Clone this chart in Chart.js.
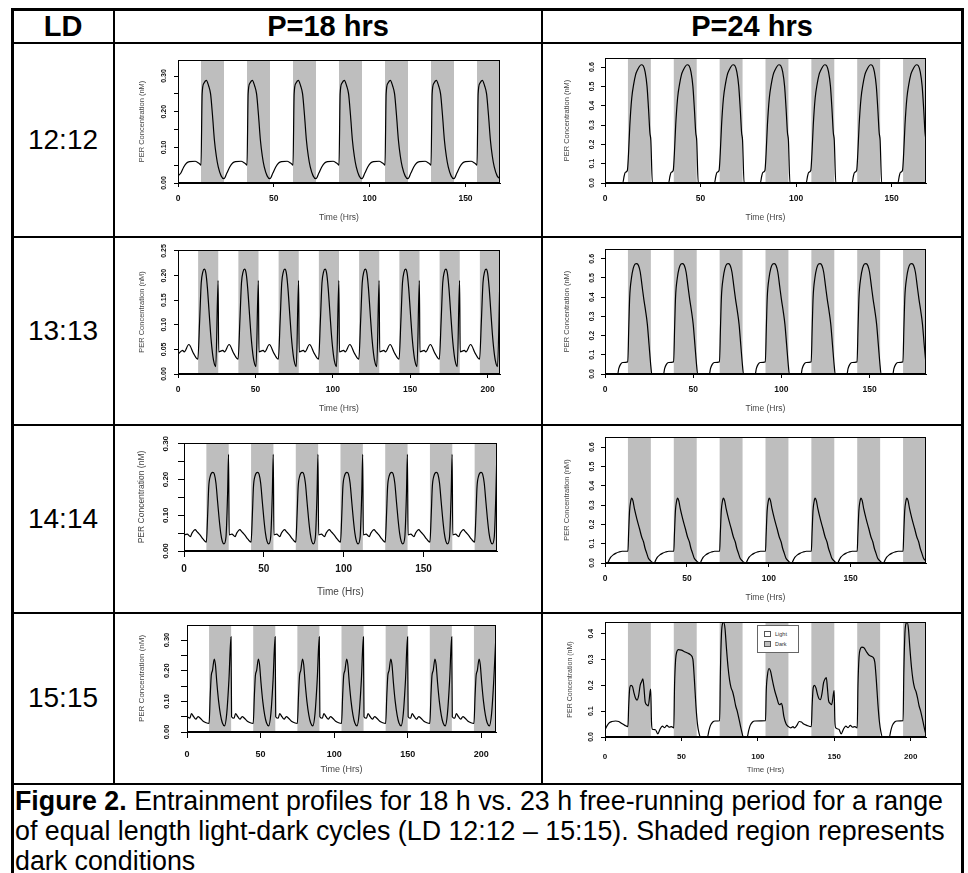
<!DOCTYPE html>
<html>
<head>
<meta charset="utf-8">
<script src="https://cdn.jsdelivr.net/npm/chart.js@4.4.1/dist/chart.umd.min.js"></script>
<style>
  body { margin: 0; background: #fff; font-family: "Liberation Sans", Arial, sans-serif; }
  #page { position: relative; width: 968px; height: 873px; overflow: hidden; background: #fff; }
  .ln { position: absolute; background: #000; }
  .lbl { position: absolute; transform: translate(-50%, -50%); white-space: nowrap; color: #000; }
  .hd { font-size: 29px; font-weight: bold; }
  .ld { font-size: 28px; }
  canvas { position: absolute; }
  #caption { position: absolute; left: 15px; top: 786px; font-size: 26.8px; line-height: 30px; white-space: nowrap; }
  #legend { position: absolute; left: 757px; top: 625px; width: 40px; height: 26px; border: 1px solid #666; background: #fff; font-size: 5.5px; color: #333; }
  #legend div { position: absolute; left: 6px; display: flex; align-items: center; }
  #legend span.sw { display: inline-block; width: 5px; height: 4px; border: 1px solid #555; margin-right: 4px; }
</style>
</head>
<body>
<div id="page">
  <!-- table grid -->
  <div class="ln" style="left:11px;top:8px;width:953px;height:3px"></div>
  <div class="ln" style="left:11px;top:8px;width:3px;height:870px"></div>
  <div class="ln" style="left:961px;top:8px;width:3px;height:870px"></div>
  <div class="ln" style="left:113px;top:8px;width:2px;height:777px"></div>
  <div class="ln" style="left:541px;top:8px;width:2px;height:777px"></div>
  <div class="ln" style="left:11px;top:42px;width:953px;height:2px"></div>
  <div class="ln" style="left:11px;top:236px;width:953px;height:2px"></div>
  <div class="ln" style="left:11px;top:424px;width:953px;height:2px"></div>
  <div class="ln" style="left:11px;top:612px;width:953px;height:2px"></div>
  <div class="ln" style="left:11px;top:783px;width:953px;height:2px"></div>

  <div class="lbl hd" style="left:63px;top:26px">LD</div>
  <div class="lbl hd" style="left:328px;top:26px">P=18 hrs</div>
  <div class="lbl hd" style="left:752px;top:26px">P=24 hrs</div>

  <div class="lbl ld" style="left:63px;top:140px">12:12</div>
  <div class="lbl ld" style="left:63px;top:331px">13:13</div>
  <div class="lbl ld" style="left:63px;top:519px">14:14</div>
  <div class="lbl ld" style="left:63px;top:698px">15:15</div>

  <div id="caption"><b>Figure 2.</b> Entrainment profiles for 18 h vs. 23 h free-running period for a range<br>of equal length light-dark cycles (LD 12:12 – 15:15). Shaded region represents<br>dark conditions</div>
</div>

<script>
// ---- dark phases (hours) ----
const dark12 = [[12,24],[36,48],[60,72],[84,96],[108,120],[132,144],[156,168]];
const dark13a = [[13,26],[39,52],[65,78],[91,104],[117,130],[143,156],[169,182],[195,208]];
const dark13b = [[13,26],[39,52],[65,78],[91,104],[117,130],[143,156],[169,182]];
const dark14 = [[14,28],[42,56],[70,84],[98,112],[126,140],[154,168],[182,196]];
const dark15 = [[15,30],[45,60],[75,90],[105,120],[135,150],[165,180],[195,210]];

// ---- ticks ----
const xTicks150 = [0, 50, 100, 150];
const xLabels150 = ['0', '50', '100', '150'];
const xTicks200 = [0, 50, 100, 150, 200];
const xLabels200 = ['0', '50', '100', '150', '200'];
const yTicks030 = [0, 0.05, 0.1, 0.15, 0.2, 0.25, 0.3];
const yLabels030 = ['0.00', '', '0.10', '', '0.20', '', '0.30'];
const yTicks025 = [0, 0.05, 0.1, 0.15, 0.2, 0.25];
const yLabels025 = ['0.00', '0.05', '0.10', '0.15', '0.20', '0.25'];
const yTicks06 = [0, 0.1, 0.2, 0.3, 0.4, 0.5, 0.6];
const yLabels06 = ['0.0', '0.1', '0.2', '0.3', '0.4', '0.5', '0.6'];
const yTicks04 = [0, 0.1, 0.2, 0.3, 0.4];
const yLabels04 = ['0.0', '0.1', '0.2', '0.3', '0.4'];

// ---- LD 12:12, P=18 ----
const timeA = [
  0,1.5,3,4.5,6,9,11,12,12.6,13.5,14.8,16,17,18,19,20,21,22.5,
  24,25.5,27,28.5,30,33,35,36,36.6,37.5,38.8,40,41,42,43,44,45,46.5,
  48,49.5,51,52.5,54,57,59,60,60.6,61.5,62.8,64,65,66,67,68,69,70.5,
  72,73.5,75,76.5,78,81,83,84,84.6,85.5,86.8,88,89,90,91,92,93,94.5,
  96,97.5,99,100.5,102,105,107,108,108.6,109.5,110.8,112,113,114,115,116,117,118.5,
  120,121.5,123,124.5,126,129,131,132,132.6,133.5,134.8,136,137,138,139,140,141,142.5,
  144,145.5,147,148.5,150,153,155,156,156.6,157.5,158.8,160,161,162,163,164,165,166.5,
  168];
const perA = [
  .02,.028,.045,.056,.06,.061,.055,.05,.25,.28,.288,.272,.25,.19,.12,.075,.045,.02,
  .012,.028,.045,.056,.06,.061,.055,.05,.25,.28,.288,.272,.25,.19,.12,.075,.045,.02,
  .012,.028,.045,.056,.06,.061,.055,.05,.25,.28,.288,.272,.25,.19,.12,.075,.045,.02,
  .012,.028,.045,.056,.06,.061,.055,.05,.25,.28,.288,.272,.25,.19,.12,.075,.045,.02,
  .012,.028,.045,.056,.06,.061,.055,.05,.25,.28,.288,.272,.25,.19,.12,.075,.045,.02,
  .012,.028,.045,.056,.06,.061,.055,.05,.25,.28,.288,.272,.25,.19,.12,.075,.045,.02,
  .012,.028,.045,.056,.06,.061,.055,.05,.25,.28,.288,.272,.25,.19,.12,.075,.045,.02,
  .012];

// ---- LD 12:12, P=24 ----
const timeB = [
  0,9.3,10,10.6,11.7,12.3,13,14,15,16,17,18,19,20,21,22,22.8,23.5,
  24,24.8,33.3,34,34.6,35.7,36.3,37,38,39,40,41,42,43,44,45,46,46.8,47.5,
  48,48.8,57.3,58,58.6,59.7,60.3,61,62,63,64,65,66,67,68,69,70,70.8,71.5,
  72,72.8,81.3,82,82.6,83.7,84.3,85,86,87,88,89,90,91,92,93,94,94.8,95.5,
  96,96.8,105.3,106,106.6,107.7,108.3,109,110,111,112,113,114,115,116,117,118,118.8,119.5,
  120,120.8,129.3,130,130.6,131.7,132.3,133,134,135,136,137,138,139,140,141,142,142.8,143.5,
  144,144.8,153.3,154,154.6,155.7,156.3,157,158,159,160,161,162,163,164,165,166,166.8,167.5,
  168];
const perB = [
  0,0,.035,.055,.065,.15,.3,.44,.51,.56,.585,.603,.612,.607,.575,.5,.38,.26,
  .22,0,0,.035,.055,.065,.15,.3,.44,.51,.56,.585,.603,.612,.607,.575,.5,.38,.26,
  .22,0,0,.035,.055,.065,.15,.3,.44,.51,.56,.585,.603,.612,.607,.575,.5,.38,.26,
  .22,0,0,.035,.055,.065,.15,.3,.44,.51,.56,.585,.603,.612,.607,.575,.5,.38,.26,
  .22,0,0,.035,.055,.065,.15,.3,.44,.51,.56,.585,.603,.612,.607,.575,.5,.38,.26,
  .22,0,0,.035,.055,.065,.15,.3,.44,.51,.56,.585,.603,.612,.607,.575,.5,.38,.26,
  .22,0,0,.035,.055,.065,.15,.3,.44,.51,.56,.585,.603,.612,.607,.575,.5,.38,.26,
  .22];

// ---- LD 13:13, P=18 ----
const timeC = [
  0,3,4,7,10,12.8,14,15,16,17,18,19,20,21,22,23,24.4,25.9,
  26.3,29,30,33,36,38.8,40,41,42,43,44,45,46,47,48,49,50.4,51.9,
  52.3,55,56,59,62,64.8,66,67,68,69,70,71,72,73,74,75,76.4,77.9,
  78.3,81,82,85,88,90.8,92,93,94,95,96,97,98,99,100,101,102.4,103.9,
  104.3,107,108,111,114,116.8,118,119,120,121,122,123,124,125,126,127,128.4,129.9,
  130.3,133,134,137,140,142.8,144,145,146,147,148,149,150,151,152,153,154.4,155.9,
  156.3,159,160,163,166,168.8,170,171,172,173,174,175,176,177,178,179,180.4,181.9,
  182.3,185,186,189,192,194.8,196,197,198,199,200,201,202,203,204,205,206.4,207.9];
const perC = [
  .04,.048,.045,.06,.042,.03,.11,.185,.207,.213,.205,.175,.13,.085,.05,.027,.015,.19,
  .045,.048,.045,.06,.042,.03,.11,.185,.207,.213,.205,.175,.13,.085,.05,.027,.015,.19,
  .045,.048,.045,.06,.042,.03,.11,.185,.207,.213,.205,.175,.13,.085,.05,.027,.015,.19,
  .045,.048,.045,.06,.042,.03,.11,.185,.207,.213,.205,.175,.13,.085,.05,.027,.015,.19,
  .045,.048,.045,.06,.042,.03,.11,.185,.207,.213,.205,.175,.13,.085,.05,.027,.015,.19,
  .045,.048,.045,.06,.042,.03,.11,.185,.207,.213,.205,.175,.13,.085,.05,.027,.015,.19,
  .045,.048,.045,.06,.042,.03,.11,.185,.207,.213,.205,.175,.13,.085,.05,.027,.015,.19,
  .045,.048,.045,.06,.042,.03,.11,.185,.207,.213,.205,.175,.13,.085,.05,.027,.015,.19];

// ---- LD 13:13, P=24 ----
const timeD = [
  0,7.2,7.8,8.8,10,12.9,13.5,14,15,16,17,18,19,20,21,22,23,24,25,
  26,26.5,33.2,33.8,34.8,36,38.9,39.5,40,41,42,43,44,45,46,47,48,49,50,51,
  52,52.5,59.2,59.8,60.8,62,64.9,65.5,66,67,68,69,70,71,72,73,74,75,76,77,
  78,78.5,85.2,85.8,86.8,88,90.9,91.5,92,93,94,95,96,97,98,99,100,101,102,103,
  104,104.5,111.2,111.8,112.8,114,116.9,117.5,118,119,120,121,122,123,124,125,126,127,128,129,
  130,130.5,137.2,137.8,138.8,140,142.9,143.5,144,145,146,147,148,149,150,151,152,153,154,155,
  156,156.5,163.2,163.8,164.8,166,168.9,169.5,170,171,172,173,174,175,176,177,178,179,180,181,
  182];
const perD = [
  0,0,.028,.05,.06,.063,.25,.4,.5,.55,.572,.575,.565,.53,.46,.39,.33,.26,.15,
  .04,0,0,.028,.05,.06,.063,.25,.4,.5,.55,.572,.575,.565,.53,.46,.39,.33,.26,.15,
  .04,0,0,.028,.05,.06,.063,.25,.4,.5,.55,.572,.575,.565,.53,.46,.39,.33,.26,.15,
  .04,0,0,.028,.05,.06,.063,.25,.4,.5,.55,.572,.575,.565,.53,.46,.39,.33,.26,.15,
  .04,0,0,.028,.05,.06,.063,.25,.4,.5,.55,.572,.575,.565,.53,.46,.39,.33,.26,.15,
  .04,0,0,.028,.05,.06,.063,.25,.4,.5,.55,.572,.575,.565,.53,.46,.39,.33,.26,.15,
  .04,0,0,.028,.05,.06,.063,.25,.4,.5,.55,.572,.575,.565,.53,.46,.39,.33,.26,.15,
  .05];

// ---- LD 14:14, P=18 ----
const timeE = [
  0,2,4,5,7,8,10,12,14,14.8,15.5,16.5,18,19,20,21,22,23,24,25,26.3,27.3,27.9,
  28.3,30,32,33,35,36,38,40,42,42.8,43.5,44.5,46,47,48,49,50,51,52,53,54.3,55.3,55.9,
  56.3,58,60,61,63,64,66,68,70,70.8,71.5,72.5,74,75,76,77,78,79,80,81,82.3,83.3,83.9,
  84.3,86,88,89,91,92,94,96,98,98.8,99.5,100.5,102,103,104,105,106,107,108,109,110.3,111.3,111.9,
  112.3,114,116,117,119,120,122,124,126,126.8,127.5,128.5,130,131,132,133,134,135,136,137,138.3,139.3,139.9,
  140.3,142,144,145,147,148,150,152,154,154.8,155.5,156.5,158,159,160,161,162,163,164,165,166.3,167.3,167.9,
  168.3,170,172,173,175,176,178,180,182,182.8,183.5,184.5,186,187,188,189,190,191,192,193,194.3,195.3,195.9];
const perE = [
  .045,.047,.04,.05,.06,.055,.045,.033,.025,.1,.18,.21,.22,.215,.19,.14,.09,.05,.027,.02,.04,.16,.27,
  .045,.047,.04,.05,.06,.055,.045,.033,.025,.1,.18,.21,.22,.215,.19,.14,.09,.05,.027,.02,.04,.16,.27,
  .045,.047,.04,.05,.06,.055,.045,.033,.025,.1,.18,.21,.22,.215,.19,.14,.09,.05,.027,.02,.04,.16,.27,
  .045,.047,.04,.05,.06,.055,.045,.033,.025,.1,.18,.21,.22,.215,.19,.14,.09,.05,.027,.02,.04,.16,.27,
  .045,.047,.04,.05,.06,.055,.045,.033,.025,.1,.18,.21,.22,.215,.19,.14,.09,.05,.027,.02,.04,.16,.27,
  .045,.047,.04,.05,.06,.055,.045,.033,.025,.1,.18,.21,.22,.215,.19,.14,.09,.05,.027,.02,.04,.16,.27,
  .045,.047,.04,.05,.06,.055,.045,.033,.025,.1,.18,.21,.22,.215,.19,.14,.09,.05,.027,.02,.04,.16,.27];

// ---- LD 14:14, P=24 ----
const timeF = [
  0,1.5,2.5,3.5,5,6.5,8.5,10.5,14,14.4,15,15.7,16.3,17,18,19.4,21,22.4,23.5,24.5,25.5,26.5,
  28,28.8,30,31,32,33.5,35,37,39,42,42.4,43,43.7,44.3,45,46,47.4,49,50.4,51.5,52.5,53.5,54.5,
  56,56.8,58,59,60,61.5,63,65,67,70,70.4,71,71.7,72.3,73,74,75.4,77,78.4,79.5,80.5,81.5,82.5,
  84,84.8,86,87,88,89.5,91,93,95,98,98.4,99,99.7,100.3,101,102,103.4,105,106.4,107.5,108.5,109.5,110.5,
  112,112.8,114,115,116,117.5,119,121,123,126,126.4,127,127.7,128.3,129,130,131.4,133,134.4,135.5,136.5,137.5,138.5,
  140,140.8,142,143,144,145.5,147,149,151,154,154.4,155,155.7,156.3,157,158,159.4,161,162.4,163.5,164.5,165.5,166.5,
  168,168.8,170,171,172,173.5,175,177,179,182,182.4,183,183.7,184.3,185,186,187.4,189,190.4,191.5,192.5,193.5,194.5,
  196];
const perF = [
  0,0,.015,.03,.042,.05,.057,.061,.062,.15,.27,.32,.336,.325,.28,.23,.18,.135,.11,.075,.05,.025,
  .01,.004,0,.015,.03,.042,.05,.057,.061,.062,.15,.27,.32,.336,.325,.28,.23,.18,.135,.11,.075,.05,.025,
  .01,.004,0,.015,.03,.042,.05,.057,.061,.062,.15,.27,.32,.336,.325,.28,.23,.18,.135,.11,.075,.05,.025,
  .01,.004,0,.015,.03,.042,.05,.057,.061,.062,.15,.27,.32,.336,.325,.28,.23,.18,.135,.11,.075,.05,.025,
  .01,.004,0,.015,.03,.042,.05,.057,.061,.062,.15,.27,.32,.336,.325,.28,.23,.18,.135,.11,.075,.05,.025,
  .01,.004,0,.015,.03,.042,.05,.057,.061,.062,.15,.27,.32,.336,.325,.28,.23,.18,.135,.11,.075,.05,.025,
  .01,.004,0,.015,.03,.042,.05,.057,.061,.062,.15,.27,.32,.336,.325,.28,.23,.18,.135,.11,.075,.05,.025,
  .01];

// ---- LD 15:15, P=18 ----
const timeG = [
  0,2,3,4.5,6,7.5,9,11,13,15,15.8,16.5,17.3,18.5,19.3,20.3,21.5,22.8,24,25.5,27,28.5,29.9,
  30.3,32,33,34.5,36,37.5,39,41,43,45,45.8,46.5,47.3,48.5,49.3,50.3,51.5,52.8,54,55.5,57,58.5,59.9,
  60.3,62,63,64.5,66,67.5,69,71,73,75,75.8,76.5,77.3,78.5,79.3,80.3,81.5,82.8,84,85.5,87,88.5,89.9,
  90.3,92,93,94.5,96,97.5,99,101,103,105,105.8,106.5,107.3,108.5,109.3,110.3,111.5,112.8,114,115.5,117,118.5,119.9,
  120.3,122,123,124.5,126,127.5,129,131,133,135,135.8,136.5,137.3,138.5,139.3,140.3,141.5,142.8,144,145.5,147,148.5,149.9,
  150.3,152,153,154.5,156,157.5,159,161,163,165,165.8,166.5,167.3,168.5,169.3,170.3,171.5,172.8,174,175.5,177,178.5,179.9,
  180.3,182,183,184.5,186,187.5,189,191,193,195,195.8,196.5,197.3,198.5,199.3,200.3,201.5,202.8,204,205.5,207,208.5,209.9];
const perG = [
  .05,.045,.06,.05,.042,.05,.045,.035,.03,.028,.12,.185,.2,.238,.22,.16,.1,.055,.03,.02,.06,.17,.31,
  .05,.045,.06,.05,.042,.05,.045,.035,.03,.028,.12,.185,.2,.238,.22,.16,.1,.055,.03,.02,.06,.17,.31,
  .05,.045,.06,.05,.042,.05,.045,.035,.03,.028,.12,.185,.2,.238,.22,.16,.1,.055,.03,.02,.06,.17,.31,
  .05,.045,.06,.05,.042,.05,.045,.035,.03,.028,.12,.185,.2,.238,.22,.16,.1,.055,.03,.02,.06,.17,.31,
  .05,.045,.06,.05,.042,.05,.045,.035,.03,.028,.12,.185,.2,.238,.22,.16,.1,.055,.03,.02,.06,.17,.31,
  .05,.045,.06,.05,.042,.05,.045,.035,.03,.028,.12,.185,.2,.238,.22,.16,.1,.055,.03,.02,.06,.17,.31,
  .05,.045,.06,.05,.042,.05,.045,.035,.03,.028,.12,.185,.2,.238,.22,.16,.1,.055,.03,.02,.06,.17,.31];

// ---- LD 15:15, P=24 ----
const timeH = [
  0,1.5,3,4.5,7,9,11,13,15,
  15.5,16.2,17,18,19,20,21,22,23,24,24.8,25.5,26.3,27.3,28.3,29.5,29.9,30.4,
  31,33,34.5,36,37.5,39,40.5,42,43.5,45,
  45.5,46.2,47,48,50,52,54,56,57.5,58.5,59.5,60.5,61.5,62.5,
  67,68,69,70.5,72,75,
  75.5,76.2,77,77.7,78.5,79.5,80.5,81.5,82.5,83.5,84.5,85.5,86.5,88,89.5,90.5,
  93,94,95,96.5,98,105,
  105.5,106.3,107.3,108.3,109.5,111,112.5,113.5,114.5,115.3,116,117,118.5,120,
  121.5,123,124,125.5,127,128.5,130,132,135,
  135.5,136.2,137,138,139,140,141,142,143,144,144.8,145.5,146.3,147.3,148.3,149.5,149.9,150.4,
  151,153,154.5,156,157.5,159,160.5,162,163.5,165,
  165.5,166.2,167,168,169.5,171,173,175,176.5,177.5,178.5,179.5,180.5,181.5,
  186,187,188,189.5,191,195,
  195.5,196.2,197,197.7,198.5,199.5,200.5,201.5,202.5,203.5,204.5,205.5,206.5,208,209.5,210];
const perH = [
  .028,.045,.056,.06,.062,.06,.052,.045,.04,
  .12,.19,.2,.195,.17,.15,.143,.16,.2,.215,.225,.19,.135,.125,.12,.175,.185,.06,
  .03,.028,.012,.03,.042,.036,.045,.038,.04,.035,
  .2,.3,.33,.338,.336,.33,.325,.318,.3,.22,.12,.05,.015,0,
  0,.025,.045,.058,.062,.063,
  .25,.4,.44,.443,.42,.34,.27,.22,.19,.175,.15,.12,.1,.06,.02,0,
  0,.025,.045,.058,.062,.063,
  .18,.24,.265,.255,.22,.18,.15,.13,.125,.13,.12,.08,.05,.04,
  .035,.04,.035,.045,.06,.058,.05,.045,.04,
  .12,.19,.2,.19,.165,.148,.145,.17,.21,.225,.23,.19,.14,.13,.125,.17,.18,.06,
  .035,.03,.012,.03,.042,.036,.045,.038,.04,.035,
  .2,.31,.34,.348,.345,.33,.315,.31,.29,.22,.13,.06,.02,0,
  0,.025,.045,.058,.062,.063,
  .25,.4,.44,.443,.42,.34,.27,.22,.19,.175,.15,.12,.1,.06,.02,.01];

const FONT = '"Liberation Sans", Arial, sans-serif';
const page = document.getElementById('page');
const measure = document.createElement('canvas').getContext('2d');
function textWidth(s, font) { measure.font = font; return measure.measureText(s).width; }

// grey night bands + plot box
const bandPlugin = {
  id: 'bands',
  beforeDatasetsDraw(chart, args, opts) {
    const { ctx, chartArea: a, scales: { x } } = chart;
    ctx.save();
    ctx.fillStyle = '#bebebe';
    opts.dark.forEach(([s, e]) => {
      const x0 = x.getPixelForValue(s), x1 = x.getPixelForValue(e);
      ctx.fillRect(x0, a.top, x1 - x0, a.bottom - a.top);
    });
    ctx.restore();
  },
  afterDatasetsDraw(chart) {
    const { ctx, chartArea: a } = chart;
    ctx.save();
    ctx.strokeStyle = '#000';
    ctx.lineWidth = 1;
    ctx.strokeRect(a.left + 0.5, a.top + 0.5, a.right - a.left - 1, a.bottom - a.top - 1);
    ctx.restore();
  }
};

function panel(p) {
  const padL = 56, padT = 14, padR = 10, padB = 56;
  const w = p.R - p.L + padL + padR, h = p.B - p.T + padT + padB;
  const cv = document.createElement('canvas');
  cv.width = w; cv.height = h;
  cv.style.left = (p.L - padL) + 'px';
  cv.style.top = (p.T - padT) + 'px';
  page.appendChild(cv);

  const f = p.f;
  const yW = f.yTitleX + f.yTitle * 0.6;
  const xH = f.xTitleY + f.xTitle * 0.6;
  const yTickFont = 'bold ' + f.yTick + 'px ' + FONT;
  const widest = Math.max(...p.yLabels.map(s => textWidth(s, yTickFont)));

  new Chart(cv, {
    type: 'line',
    data: {
      datasets: [{
        data: p.time.map((t, i) => ({ x: t, y: p.per[i] })),
        borderColor: '#000', borderWidth: 1.2, pointRadius: 0,
        cubicInterpolationMode: 'monotone', fill: false
      }]
    },
    options: {
      responsive: false, animation: false, devicePixelRatio: 1, events: [],
      layout: { padding: { left: padL - yW, top: padT, right: padR, bottom: padB - xH } },
      plugins: { legend: { display: false }, tooltip: { enabled: false }, bands: { dark: p.dark } },
      scales: {
        x: {
          type: 'linear', min: 0, max: p.xMax,
          afterBuildTicks: s => { s.ticks = p.xTicks.map(v => ({ value: v })); },
          afterFit: s => { s.height = xH; },
          ticks: {
            autoSkip: false, maxRotation: 0, minRotation: 0,
            padding: f.xLabY - f.tl - 0.55 * f.xTick,
            font: { family: FONT, size: f.xTick, weight: 'bold' }, color: '#111',
            callback: (v, i) => p.xLabels[i]
          },
          grid: { drawOnChartArea: false, drawTicks: true, tickLength: f.tl, color: '#000' },
          border: { display: true, color: '#000' },
          title: { display: true, text: 'Time (Hrs)', color: '#444', padding: 0,
                   font: { family: FONT, size: f.xTitle } }
        },
        y: {
          type: 'linear', min: 0, max: p.yMax,
          afterBuildTicks: s => { s.ticks = p.yTicks.map(v => ({ value: v })); },
          afterFit: s => { s.width = yW; },
          ticks: {
            autoSkip: false, minRotation: 90, maxRotation: 90, crossAlign: 'center',
            padding: f.yLabX - f.tl - widest / 2,
            font: { family: FONT, size: f.yTick, weight: 'bold' }, color: '#111',
            callback: (v, i) => p.yLabels[i]
          },
          grid: { drawOnChartArea: false, drawTicks: true, tickLength: f.tl, color: '#000' },
          border: { display: true, color: '#000' },
          title: { display: true, text: 'PER Concentration (nM)', color: '#444', padding: 0,
                   font: { family: FONT, size: f.yTitle } }
        }
      }
    },
    plugins: [bandPlugin]
  });
}

const small = { yTick: 7, xTick: 8.5, yTitle: 7.5, xTitle: 8.5, tl: 4, yTitleX: 36, yLabX: 14, xLabY: 15, xTitleY: 35 };
const small24 = { yTick: 7, xTick: 8.5, yTitle: 7.5, xTitle: 8.5, tl: 4, yTitleX: 38, yLabX: 13, xLabY: 15, xTitleY: 35 };

panel({ L: 178, R: 500, T: 60, B: 183, xMax: 168, yMax: 0.345, time: timeA, per: perA, dark: dark12,
        xTicks: xTicks150, xLabels: xLabels150, yTicks: yTicks030, yLabels: yLabels030, f: small });
panel({ L: 605, R: 926, T: 58, B: 183, xMax: 168, yMax: 0.647, time: timeB, per: perB, dark: dark12,
        xTicks: xTicks150, xLabels: xLabels150, yTicks: yTicks06, yLabels: yLabels06, f: small24 });
panel({ L: 178, R: 500, T: 250, B: 374, xMax: 208, yMax: 0.252, time: timeC, per: perC, dark: dark13a,
        xTicks: xTicks200, xLabels: xLabels200, yTicks: yTicks025, yLabels: yLabels025, f: small });
panel({ L: 605, R: 926, T: 249, B: 374, xMax: 182, yMax: 0.651, time: timeD, per: perD, dark: dark13b,
        xTicks: xTicks150, xLabels: xLabels150, yTicks: yTicks06, yLabels: yLabels06, f: small24 });
panel({ L: 184, R: 497, T: 443, B: 551, xMax: 196, yMax: 0.302, time: timeE, per: perE, dark: dark14,
        xTicks: xTicks150, xLabels: xLabels150, yTicks: yTicks030, yLabels: yLabels030,
        f: { yTick: 8, xTick: 10, yTitle: 8.5, xTitle: 10, tl: 6, yTitleX: 42, yLabX: 18, xLabY: 18, xTitleY: 41 } });
panel({ L: 605, R: 926, T: 437, B: 563, xMax: 196, yMax: 0.653, time: timeF, per: perF, dark: dark14,
        xTicks: xTicks150, xLabels: xLabels150, yTicks: yTicks06, yLabels: yLabels06, f: small24 });
panel({ L: 187, R: 496, T: 625, B: 732, xMax: 210, yMax: 0.349, time: timeG, per: perG, dark: dark15,
        xTicks: xTicks200, xLabels: xLabels200, yTicks: yTicks030, yLabels: yLabels030,
        f: { yTick: 7.5, xTick: 9, yTitle: 8, xTitle: 9, tl: 6, yTitleX: 45, yLabX: 20, xLabY: 22, xTitleY: 38 } });
panel({ L: 605, R: 926, T: 622, B: 737, xMax: 210, yMax: 0.445, time: timeH, per: perH, dark: dark15,
        xTicks: xTicks200, xLabels: xLabels200, yTicks: yTicks04, yLabels: yLabels04,
        f: { yTick: 7, xTick: 8, yTitle: 7, xTitle: 8, tl: 4, yTitleX: 35, yLabX: 14, xLabY: 19, xTitleY: 33 } });

// legend box of the LD 15:15 / P=24 panel
const lg = document.createElement('div');
lg.id = 'legend';
lg.innerHTML = '<div style="top:5px"><span class="sw" style="background:#fff"></span>Light</div>' +
               '<div style="top:15px"><span class="sw" style="background:#bebebe"></span>Dark</div>';
page.appendChild(lg);
</script>
</body>
</html>
